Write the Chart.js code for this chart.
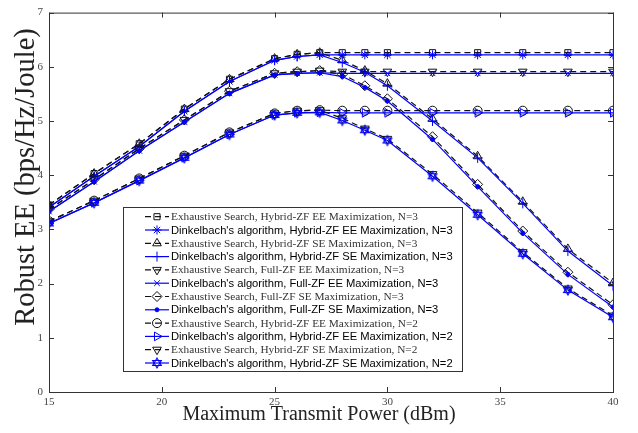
<!DOCTYPE html>
<html>
<head>
<meta charset="utf-8">
<script src="https://cdn.jsdelivr.net/npm/chart.js@4.4.0/dist/chart.umd.min.js"></script>
<style>
  html, body { margin: 0; padding: 0; background: #fff; }
  #wrap { width: 638px; height: 433px; }
</style>
</head>
<body>
<div id="wrap"><canvas id="eeChart" width="638" height="433"></canvas></div>
<script>
// x axis: maximum transmit power (dBm)
const powerDbm = [15, 17, 19, 21, 23, 25, 26, 27, 28, 29, 30, 32, 34, 36, 38, 40];
const xTickValues = [15, 20, 25, 30, 35, 40];
const yTickValues = [0, 1, 2, 3, 4, 5, 6, 7];

// robust EE (bps/Hz/Joule)
const hybridEeN3Exh  = [3.45, 4.03, 4.58, 5.22, 5.77, 6.15, 6.23, 6.26, 6.26, 6.26, 6.26, 6.26, 6.26, 6.26, 6.26, 6.26];
const hybridEeN3Dink = [3.41, 3.98, 4.53, 5.18, 5.73, 6.12, 6.19, 6.22, 6.22, 6.22, 6.22, 6.22, 6.22, 6.22, 6.22, 6.22];
const hybridSeN3Exh  = [3.45, 4.03, 4.58, 5.22, 5.77, 6.15, 6.23, 6.26, 6.12, 5.93, 5.69, 5.04, 4.35, 3.51, 2.64, 2.01];
const hybridSeN3Dink = [3.41, 3.98, 4.53, 5.18, 5.73, 6.12, 6.19, 6.22, 6.08, 5.90, 5.65, 5.00, 4.32, 3.48, 2.60, 1.96];
const fullEeN3Exh    = [3.37, 3.92, 4.49, 5.02, 5.55, 5.88, 5.91, 5.93, 5.91, 5.91, 5.91, 5.91, 5.91, 5.91, 5.91, 5.91];
const fullEeN3Dink   = [3.33, 3.88, 4.45, 4.98, 5.51, 5.85, 5.88, 5.89, 5.88, 5.88, 5.88, 5.88, 5.88, 5.88, 5.88, 5.88];
const fullSeN3Exh    = [3.37, 3.92, 4.49, 5.02, 5.55, 5.88, 5.91, 5.93, 5.86, 5.65, 5.41, 4.71, 3.83, 2.97, 2.21, 1.61];
const fullSeN3Dink   = [3.33, 3.88, 4.45, 4.98, 5.51, 5.85, 5.88, 5.89, 5.82, 5.62, 5.37, 4.66, 3.79, 2.93, 2.17, 1.57];
const hybridEeN2Exh  = [3.15, 3.53, 3.94, 4.36, 4.79, 5.14, 5.19, 5.20, 5.19, 5.19, 5.19, 5.19, 5.19, 5.19, 5.19, 5.19];
const hybridEeN2Dink = [3.11, 3.49, 3.90, 4.32, 4.75, 5.11, 5.15, 5.16, 5.15, 5.15, 5.15, 5.15, 5.15, 5.15, 5.15, 5.15];
const hybridSeN2Exh  = [3.15, 3.53, 3.94, 4.36, 4.79, 5.14, 5.19, 5.20, 5.05, 4.86, 4.67, 4.02, 3.31, 2.58, 1.91, 1.41];
const hybridSeN2Dink = [3.11, 3.49, 3.90, 4.32, 4.75, 5.11, 5.15, 5.16, 5.01, 4.83, 4.64, 3.98, 3.27, 2.55, 1.88, 1.38];

const seriesLabels = [
  "Exhaustive Search, Hybrid-ZF EE Maximization, N=3",
  "Dinkelbach's algorithm, Hybrid-ZF EE Maximization, N=3",
  "Exhaustive Search, Hybrid-ZF SE Maximization, N=3",
  "Dinkelbach's algorithm, Hybrid-ZF SE Maximization, N=3",
  "Exhaustive Search, Full-ZF EE Maximization, N=3",
  "Dinkelbach's algorithm, Full-ZF EE Maximization, N=3",
  "Exhaustive Search, Full-ZF SE Maximization, N=3",
  "Dinkelbach's algorithm, Full-ZF SE Maximization, N=3",
  "Exhaustive Search, Hybrid-ZF EE Maximization, N=2",
  "Dinkelbach's algorithm, Hybrid-ZF EE Maximization, N=2",
  "Exhaustive Search, Hybrid-ZF SE Maximization, N=2",
  "Dinkelbach's algorithm, Hybrid-ZF SE Maximization, N=2"
];
const seriesValues = [
  hybridEeN3Exh, hybridEeN3Dink, hybridSeN3Exh, hybridSeN3Dink,
  fullEeN3Exh, fullEeN3Dink, fullSeN3Exh, fullSeN3Dink,
  hybridEeN2Exh, hybridEeN2Dink, hybridSeN2Exh, hybridSeN2Dink
];

// star of David marker for the last series
function makeHexagram(r, color) {
  const c = document.createElement('canvas');
  const s = Math.ceil(r * 2 + 4);
  c.width = s; c.height = s;
  const g = c.getContext('2d');
  g.strokeStyle = color;
  g.lineWidth = 1.1;
  [0, Math.PI].forEach(off => {
    g.beginPath();
    for (let k = 0; k < 3; k++) {
      const a = off - Math.PI / 2 + k * 2 * Math.PI / 3;
      const px = s / 2 + r * Math.cos(a), py = s / 2 + r * Math.sin(a);
      if (k) g.lineTo(px, py); else g.moveTo(px, py);
    }
    g.closePath();
    g.stroke();
  });
  return c;
}

const BLUE = 'rgb(0,0,255)';
const BLACK = '#111';
const markerStyles = ['rect', 'star', 'triangle', 'cross', 'triangle', 'crossRot',
                      'rectRot', 'circle', 'circle', 'triangle', 'triangle', makeHexagram(5, BLUE)];
const markerRotations = [0, 0, 0, 0, 180, 0, 0, 0, 0, 90, 180, 0];
const markerRadius = [4.3, 4.5, 5, 5, 5, 4, 5, 2, 4.5, 5, 5, 5];

const datasets = seriesValues.map((vals, i) => {
  const exh = i % 2 === 0;
  const col = exh ? BLACK : BLUE;
  return {
    label: seriesLabels[i],
    data: vals.map((v, k) => ({ x: powerDbm[k], y: v })),
    borderColor: col,
    borderWidth: 1.2,
    borderDash: exh ? [6, 4] : [],
    pointStyle: markerStyles[i],
    pointRotation: markerRotations[i],
    pointRadius: markerRadius[i],
    pointBorderColor: col,
    pointBorderWidth: 1,
    pointBackgroundColor: i === 7 ? BLUE : 'rgba(0,0,0,0)',
    tension: 0,
    fill: false,
    order: seriesValues.length - i
  };
});

const SERIF = '"Liberation Serif", "Times New Roman", serif';

// axis box with inward ticks, plus the two axis titles
const boxPlugin = {
  id: 'boxPlugin',
  afterDraw(chart) {
    const { ctx, chartArea: a, scales: { x, y } } = chart;
    ctx.save();
    ctx.strokeStyle = '#333';
    ctx.lineWidth = 1;
    ctx.setLineDash([]);
    ctx.strokeRect(a.left + 0.5, a.top + 0.5, a.right - a.left, a.bottom - a.top);
    ctx.beginPath();
    xTickValues.forEach(v => {
      const px = Math.round(x.getPixelForValue(v)) + 0.5;
      ctx.moveTo(px, a.bottom); ctx.lineTo(px, a.bottom - 5);
      ctx.moveTo(px, a.top); ctx.lineTo(px, a.top + 5);
    });
    yTickValues.forEach(v => {
      const py = Math.round(y.getPixelForValue(v)) + 0.5;
      ctx.moveTo(a.left, py); ctx.lineTo(a.left + 5, py);
      ctx.moveTo(a.right, py); ctx.lineTo(a.right - 5, py);
    });
    ctx.stroke();

    ctx.fillStyle = '#222';
    ctx.textAlign = 'center';
    ctx.textBaseline = 'alphabetic';
    ctx.font = '20px ' + SERIF;
    ctx.fillText('Maximum Transmit Power (dBm)', 319, 420);

    ctx.font = '28.5px ' + SERIF;
    ctx.translate(34, 177);
    ctx.rotate(-Math.PI / 2);
    ctx.fillText('Robust EE (bps/Hz/Joule)', 0, 0);
    ctx.restore();
  }
};

// legend box inside the plot
const legendPlugin = {
  id: 'boxLegend',
  afterDatasetsDraw(chart) {
    const ctx = chart.ctx;
    const left = 123, top = 207, right = 462, bottom = 371;
    ctx.save();
    ctx.fillStyle = '#fff';
    ctx.fillRect(left, top, right - left, bottom - top);
    ctx.strokeStyle = '#333';
    ctx.lineWidth = 1;
    ctx.strokeRect(left + 0.5, top + 0.5, right - left, bottom - top);

    chart.data.datasets.forEach((ds, i) => {
      const rowY = 216.7 + i * 13.3;
      const exh = i % 2 === 0;
      ctx.strokeStyle = ds.borderColor;
      ctx.lineWidth = 1.2;
      ctx.setLineDash(exh ? [6, 4] : []);
      ctx.beginPath();
      ctx.moveTo(145, rowY); ctx.lineTo(169, rowY);
      ctx.stroke();
      ctx.setLineDash([]);
      ctx.lineWidth = 1;
      ctx.strokeStyle = ds.pointBorderColor;
      ctx.fillStyle = ds.pointBackgroundColor;
      Chart.helpers.drawPoint(ctx, {
        pointStyle: ds.pointStyle, rotation: ds.pointRotation,
        radius: ds.pointRadius, borderWidth: 1
      }, 157, rowY);

      ctx.textAlign = 'left';
      ctx.textBaseline = 'middle';
      if (exh) {
        ctx.fillStyle = '#333';
        ctx.font = '11.3px ' + SERIF;
      } else {
        ctx.fillStyle = '#000';
        ctx.font = '11.2px "Liberation Sans", Arial, sans-serif';
      }
      ctx.fillText(ds.label, 171, rowY + 0.5);
    });
    ctx.restore();
  }
};

const ctx = document.getElementById('eeChart').getContext('2d');
const eeChart = new Chart(ctx, {
  type: 'line',
  data: { datasets: datasets },
  options: {
    responsive: false,
    animation: false,
    devicePixelRatio: 1,
    layout: { padding: { top: 9, right: 25, left: 0, bottom: 0 } },
    plugins: { legend: { display: false }, tooltip: { enabled: false } },
    scales: {
      x: {
        type: 'linear',
        min: 15, max: 40,
        afterBuildTicks: s => { s.ticks = xTickValues.map(v => ({ value: v })); },
        afterFit: s => { s.height = 41; },
        grid: { display: false, drawTicks: false },
        border: { display: false },
        ticks: {
          padding: 4,
          color: '#444',
          font: { family: SERIF, size: 11 },
          maxRotation: 0
        }
      },
      y: {
        type: 'linear',
        min: 0, max: 7,
        afterBuildTicks: s => { s.ticks = yTickValues.map(v => ({ value: v })); },
        afterFit: s => { s.width = 49; },
        grid: { display: false, drawTicks: false },
        border: { display: false },
        ticks: {
          padding: 6,
          color: '#444',
          font: { family: SERIF, size: 11 }
        }
      }
    }
  },
  plugins: [legendPlugin, boxPlugin]
});
</script>
</body>
</html>
